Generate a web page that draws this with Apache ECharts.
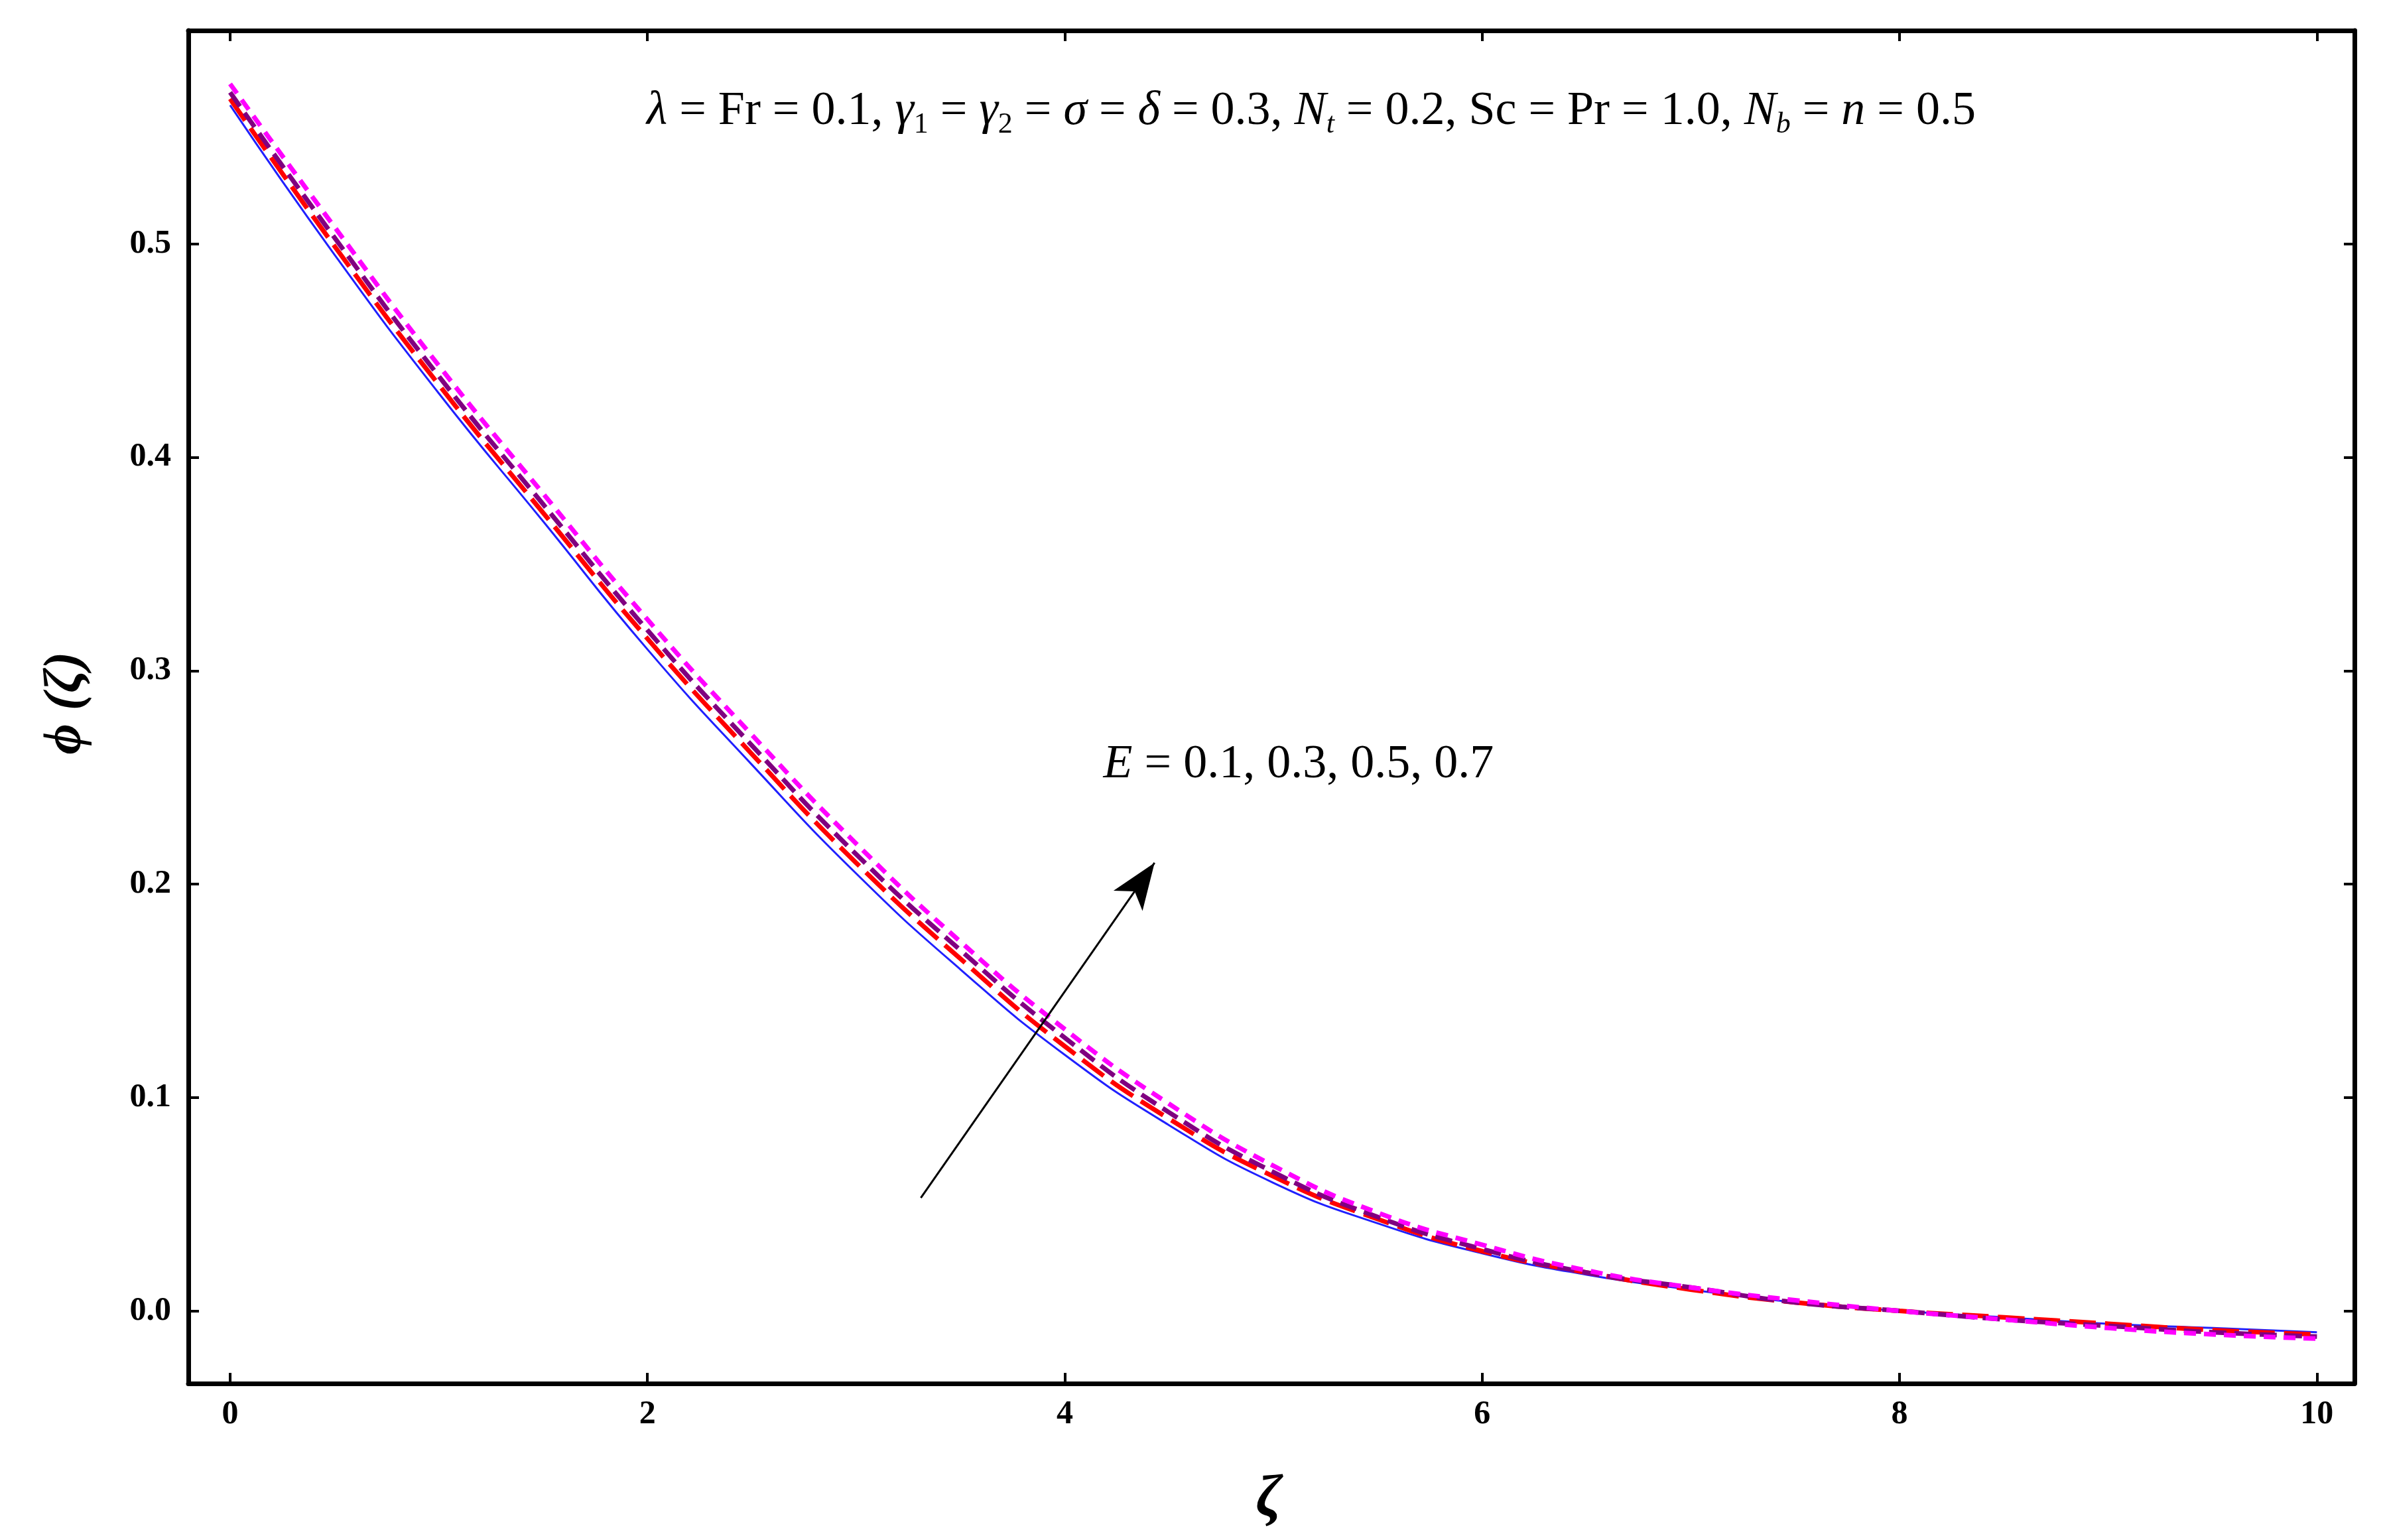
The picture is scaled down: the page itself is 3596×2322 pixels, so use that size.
<!DOCTYPE html>
<html><head><meta charset="utf-8">
<script src="https://cdn.jsdelivr.net/npm/echarts@6/dist/echarts.min.js"></script>
<style>html,body{margin:0;padding:0;background:#fff}#c{width:3596px;height:2322px}</style>
</head><body><div id="c"></div>
<script>
var zeta = [0, 0.5, 1, 1.5, 2, 2.5, 3, 3.5, 4, 4.5, 5, 5.5, 6, 6.5, 7, 7.5, 8, 8.5, 9, 9.5, 10]
var phiE1 = [0.565, 0.495, 0.43, 0.37, 0.31, 0.256, 0.205, 0.16, 0.12, 0.087, 0.06, 0.041, 0.027, 0.017, 0.01, 0.004, 0.0, -0.003, -0.006, -0.008, -0.01]
var phiE3 = [0.568, 0.499, 0.434, 0.374, 0.315, 0.261, 0.21, 0.165, 0.124, 0.09, 0.063, 0.043, 0.028, 0.018, 0.01, 0.004, 0.0, -0.003, -0.006, -0.009, -0.011]
var phiE5 = [0.571, 0.503, 0.438, 0.378, 0.319, 0.265, 0.214, 0.169, 0.128, 0.093, 0.065, 0.044, 0.029, 0.018, 0.011, 0.004, 0.0, -0.004, -0.007, -0.01, -0.012]
var phiE7 = [0.575, 0.508, 0.443, 0.383, 0.324, 0.27, 0.219, 0.173, 0.132, 0.097, 0.068, 0.046, 0.031, 0.019, 0.011, 0.005, 0.0, -0.004, -0.008, -0.011, -0.013]
var xTicks = [0, 2, 4, 6, 8, 10]
var yTicks = [0.0, 0.1, 0.2, 0.3, 0.4, 0.5]

function pairs(ys) { return zeta.map(function (x, i) { return [x, ys[i]] }) }

var serif = 'Liberation Serif'
var tickLab = { fontFamily: serif, fontWeight: 'bold', fontSize: 50, color: '#000' }
function xAx(pos, show) {
  return {
    type: 'value', position: pos, min: -0.2, max: 10.18, interval: 0.5,
    axisLine: { show: true, onZero: false, lineStyle: { color: '#000', width: 7 } },
    axisTick: { show: true, inside: true, length: 16, customValues: xTicks, lineStyle: { color: '#000', width: 4 } },
    axisLabel: { show: show, customValues: xTicks, margin: 22, formatter: function (v) { return String(v) }, ...tickLab },
    splitLine: { show: false }
  }
}
function yAx(pos, show) {
  return {
    type: 'value', position: pos, min: -0.034, max: 0.6, interval: 0.02,
    axisLine: { show: true, onZero: false, lineStyle: { color: '#000', width: 7 } },
    axisTick: { show: true, inside: true, length: 16, customValues: yTicks, lineStyle: { color: '#000', width: 4 } },
    axisLabel: { show: show, customValues: yTicks, margin: 26, formatter: function (v) { return v.toFixed(1) }, ...tickLab },
    splitLine: { show: false }
  }
}

var rich = {
  i: { fontFamily: serif, fontStyle: 'italic', fontSize: 72, fill: '#000' },
  s: { fontFamily: serif, fontSize: 44, fill: '#000', padding: [40, 0, 0, 0] },
  si: { fontFamily: serif, fontStyle: 'italic', fontSize: 44, fill: '#000', padding: [40, 0, 0, 0] }
}

var chart = echarts.init(document.getElementById('c'))
var option = {
  animation: false,
  backgroundColor: '#fff',
  grid: { left: 284, right: 46, top: 46, bottom: 236 },
  xAxis: [xAx('bottom', true), xAx('top', false)],
  yAxis: [yAx('left', true), yAx('right', false)],
  series: [
    { type: 'line', data: pairs(phiE1), smooth: true, showSymbol: false, lineStyle: { color: '#2020ff', width: 3 } },
    { type: 'line', data: pairs(phiE3), smooth: true, showSymbol: false, lineStyle: { color: '#ff0000', width: 7, type: [40, 14] } },
    { type: 'line', data: pairs(phiE5), smooth: true, showSymbol: false, lineStyle: { color: '#800080', width: 7, type: [26, 12] } },
    { type: 'line', data: pairs(phiE7), smooth: true, showSymbol: false, lineStyle: { color: '#ff00ff', width: 7, type: [18, 12] },
      markLine: {
        silent: true, symbol: ['none', 'arrow'], symbolSize: [40, 70],
        lineStyle: { color: '#000', width: 3, type: 'solid' }, label: { show: false },
        data: [[{ coord: [3.31, 0.053] }, { coord: [4.43, 0.21] }]]
      } }
  ],
  graphic: [
    { type: 'text', x: 1977, y: 168, style: {
      text: '{i|λ} = Fr = 0.1, {i|γ}{s|1} = {i|γ}{s|2} = {i|σ} = {i|δ} = 0.3, {i|N}{si|t} = 0.2, Sc = Pr = 1.0, {i|N}{si|b} = {i|n} = 0.5',
      rich: rich, fontFamily: serif, fontSize: 72, fill: '#000', align: 'center', verticalAlign: 'middle' } },
    { type: 'text', x: 100, y: 1060, rotation: Math.PI / 2, style: { text: 'ϕ (ζ)', fontFamily: serif, fontStyle: 'italic', fontWeight: 'bold', fontSize: 80, fill: '#000', align: 'center', verticalAlign: 'middle' } },
    { type: 'text', x: 1913, y: 2262, style: { text: 'ζ', fontFamily: serif, fontStyle: 'italic', fontWeight: 'bold', fontSize: 88, fill: '#000', align: 'center', verticalAlign: 'middle' } }
  ]
}
chart.setOption(option)
var p = chart.convertToPixel({ xAxisIndex: 0, yAxisIndex: 0 }, [5.12, 0.256])
chart.setOption({ graphic: [{}, {}, {}, { type: 'text', x: p[0], y: p[1], style: { text: '{i|E} = 0.1, 0.3, 0.5, 0.7', rich: rich, fontFamily: serif, fontSize: 72, fill: '#000', align: 'center', verticalAlign: 'middle' } }] })
</script></body></html>
